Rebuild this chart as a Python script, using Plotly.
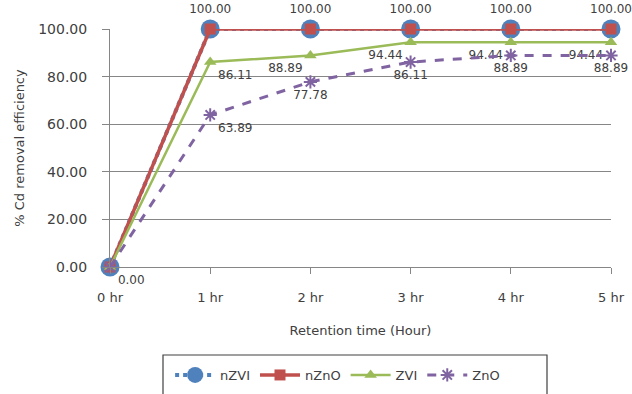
import plotly.graph_objects as go

categories = ["0 hr", "1 hr", "2 hr", "3 hr", "4 hr", "5 hr"]
nzvi = [0, 100, 100, 100, 100, 100]
nzno = [0, 100, 100, 100, 100, 100]
zvi = [0, 86.11, 88.89, 94.44, 94.44, 94.44]
zno = [0, 63.89, 77.78, 86.11, 88.89, 88.89]

y_ticks = [0, 20, 40, 60, 80, 100]

FONT = "DejaVu Sans"
TXT = "#404040"
lab_font = dict(family=FONT, size=12, color=TXT)

fig = go.Figure()

fig.add_trace(go.Scatter(
    x=categories, y=nzvi, name="nZVI", mode="lines+markers+text",
    line=dict(color="#4F81BD", width=4, dash="dot"),
    marker=dict(symbol="circle", size=19, color="#4F81BD"),
    text=[""] + [f"{v:.2f}" for v in nzvi[1:]],
    textposition="top center",
    textfont=lab_font, cliponaxis=False,
))
fig.add_trace(go.Scatter(
    x=categories, y=nzno, name="nZnO", mode="lines+markers",
    line=dict(color="#C0504D", width=3.5),
    marker=dict(symbol="square", size=11, color="#C0504D"),
    cliponaxis=False,
))
fig.add_trace(go.Scatter(
    x=categories, y=zvi, name="ZVI", mode="lines+markers+text",
    line=dict(color="#9BBB59", width=2.5),
    marker=dict(symbol="triangle-up", size=11, color="#9BBB59"),
    text=[""] + [f"{v:.2f}" for v in zvi[1:]],
    textposition=["bottom right", "bottom right", "bottom left", "bottom left", "bottom left", "bottom left"],
    textfont=lab_font, cliponaxis=False,
))
fig.add_trace(go.Scatter(
    x=categories, y=zno, name="ZnO", mode="lines+markers+text",
    line=dict(color="#8064A2", width=3, dash="dash"),
    marker=dict(symbol="asterisk-open", size=11, color="#8064A2",
                line=dict(color="#8064A2", width=2)),
    text=[f"{v:.2f}" for v in zno],
    textposition=["bottom right", "bottom right", "bottom center", "bottom center", "bottom center", "bottom center"],
    textfont=lab_font, cliponaxis=False,
))

fig.update_layout(
    width=632, height=394,
    margin=dict(l=110, r=21, t=29, b=127, autoexpand=False),
    plot_bgcolor="white", paper_bgcolor="white",
    font=dict(family=FONT, size=13, color=TXT),
    showlegend=True,
    legend=dict(orientation="h", x=0.12, xanchor="left",
                yref="container", y=(394 - 360) / 394, yanchor="top",
                font=dict(family=FONT, size=13, color=TXT),
                bgcolor="rgba(0,0,0,0)", borderwidth=0, itemwidth=40),
    xaxis=dict(
        type="category", range=[0, 5], showgrid=False,
        showline=True, linecolor="#868686", linewidth=1,
        ticks="outside", ticklen=6, tickcolor="#868686",
        ticklabelstandoff=12,
        tickfont=dict(family=FONT, size=13, color=TXT),
        title=dict(text="Retention time (Hour)", font=dict(family=FONT, size=13, color=TXT), standoff=22),
    ),
    yaxis=dict(
        range=[0, 100], tickvals=y_ticks, ticktext=[f"{v:.2f}" for v in y_ticks],
        showgrid=True, gridcolor="#868686", gridwidth=1,
        showline=True, linecolor="#868686", linewidth=1,
        ticks="outside", ticklen=7, tickcolor="#868686",
        ticklabelstandoff=12,
        tickfont=dict(family=FONT, size=14, color=TXT),
        zeroline=False,
        title=dict(text="% Cd removal efficiency", font=dict(family=FONT, size=13, color=TXT), standoff=10),
    ),
    shapes=[dict(type="rect", xref="paper", yref="paper",
                 x0=(163 - 110) / 501, x1=(547 - 110) / 501,
                 y0=(267 - 400) / 238, y1=(267 - 355) / 238,
                 line=dict(color="#404040", width=1.2), fillcolor="rgba(0,0,0,0)")],
)

fig.write_html("out.html")
